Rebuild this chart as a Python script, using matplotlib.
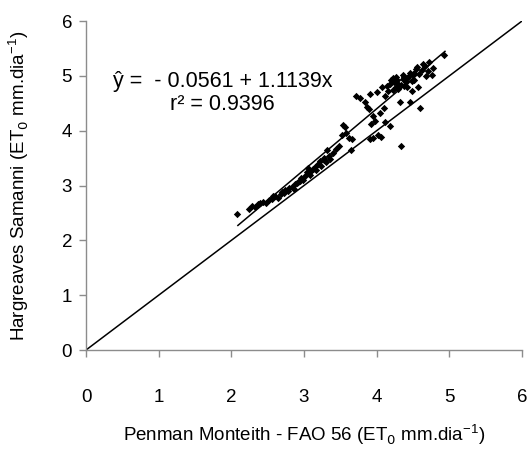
import matplotlib.pyplot as plt
import numpy as np

plt.rcParams['font.family'] = ['Liberation Sans', 'DejaVu Sans']

# ETo pares: Penman Monteith (x) e Hargreaves Samanni (y)
pm = [2.08, 2.24, 2.28, 2.32, 2.36, 2.40, 2.44, 2.48, 2.52, 2.56, 2.60, 2.64,
      2.68, 2.72, 2.74, 2.78, 2.80, 2.83, 2.86, 2.88, 2.91, 2.94, 2.96, 2.99,
      3.02, 3.04, 3.06, 3.08, 3.10, 3.13, 3.16, 3.19, 3.22, 3.24, 3.27, 3.30,
      3.31, 3.34, 3.36, 3.40, 3.44, 3.48, 3.52, 3.54, 3.56, 3.58, 3.62, 3.64,
      3.66, 3.72, 3.77, 3.84, 3.87, 3.90, 3.91, 3.92, 3.91, 3.95, 3.95, 3.98,
      4.00, 4.02, 4.04, 4.06, 4.08, 4.10, 4.11, 4.14, 4.18, 4.18, 4.22, 4.24,
      4.26, 4.28, 4.30, 4.32, 4.33, 4.34, 4.36, 4.38, 4.40, 4.42, 4.44, 4.46,
      4.46, 4.48, 4.50, 4.52, 4.54, 4.55, 4.57, 4.58, 4.60, 4.62, 4.64, 4.66,
      4.68, 4.70, 4.72, 4.76, 4.78, 4.93, 4.12, 4.16, 4.20, 4.26, 4.30, 4.38,
      4.42, 4.48, 2.58, 2.70, 2.92, 3.15, 3.28, 4.22, 4.36, 4.52]
hs = [2.48, 2.58, 2.62, 2.60, 2.66, 2.68, 2.70, 2.68, 2.74, 2.76, 2.80, 2.78,
      2.84, 2.86, 2.92, 2.90, 2.96, 2.98, 2.94, 3.02, 3.04, 3.08, 3.14, 3.10,
      3.18, 3.24, 3.32, 3.20, 3.26, 3.30, 3.28, 3.40, 3.44, 3.36, 3.50, 3.42,
      3.64, 3.54, 3.48, 3.60, 3.66, 3.72, 3.92, 4.10, 4.06, 3.96, 3.86, 3.64,
      3.84, 4.64, 4.60, 4.52, 4.44, 4.40, 4.66, 4.12, 3.84, 3.86, 4.26, 4.18,
      4.70, 3.92, 4.32, 3.88, 4.80, 4.42, 4.16, 4.82, 4.86, 4.08, 4.74, 4.88,
      4.80, 4.92, 4.76, 4.52, 3.72, 4.84, 4.94, 4.98, 4.88, 4.80, 5.00, 5.06,
      4.52, 4.72, 5.02, 4.92, 5.12, 5.16, 4.80, 5.04, 4.42, 5.10, 5.22, 5.18,
      5.00, 5.08, 5.26, 5.02, 5.14, 5.38, 4.64, 4.72, 4.92, 4.98, 4.86, 4.82,
      4.96, 4.90, 2.80, 2.88, 3.06, 3.34, 3.46, 4.96, 5.02, 5.06]

a, b = -0.0561, 1.1139
xfit = [2.09, 4.94]
ref = [0, 6]

fig = plt.figure(figsize=(5.29, 4.5), dpi=100)
ax = fig.add_axes([0.1626, 0.2222, 0.8242, 0.7311])

ax.plot(ref, ref, color='black', lw=1.1, zorder=2)
xf = np.array(xfit)
ax.plot(xf, a + b * xf, color='black', lw=1.1, zorder=2)
ax.scatter(pm, hs, marker='D', s=14, color='black', linewidths=0, zorder=3)

ax.set_xlim(0, 6)
ax.set_ylim(0, 6)
ax.set_xticks(range(7))
ax.set_yticks(range(7))
for s in ['top', 'right']:
    ax.spines[s].set_visible(False)
for s in ['left', 'bottom']:
    ax.spines[s].set_color('#8c8c8c')
    ax.spines[s].set_linewidth(1.0)
ax.tick_params(direction='out', length=5, width=1.0, color='#8c8c8c',
               labelsize=13.5)
ax.tick_params(axis='y', pad=5)
ax.tick_params(axis='x', pad=23)

ax.set_xlabel('Penman Monteith - FAO 56 (ET$_0$ mm.dia$^{\\mathregular{-1}}$)',
              fontsize=13.5, labelpad=12)
ax.set_ylabel('Hargreaves Samanni (ET$_0$ mm.dia$^{\\mathregular{-1}}$)',
              fontsize=13.5, labelpad=22)

ax.text(0.37, 4.9, 'ŷ =  - 0.0561 + 1.1139x', fontsize=15.5, va='center')
ax.text(1.16, 4.48, 'r² = 0.9396', fontsize=15.5, va='center')

fig.savefig('out.png', dpi=100)
